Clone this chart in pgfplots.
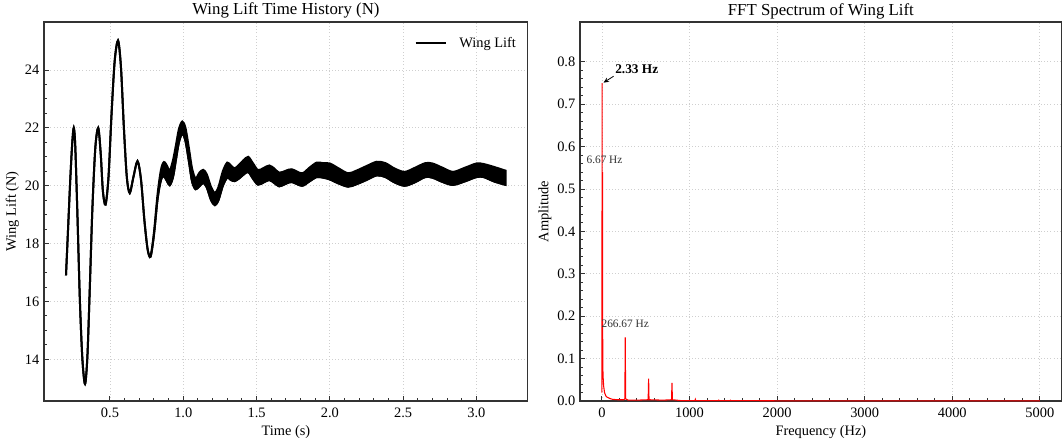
\documentclass[border=0pt]{standalone}
\usepackage{fontspec}
\setmainfont{Liberation Serif}
\usepackage{pgfplots}
\usepackage{pgfplotstable}
\pgfplotsset{compat=1.18}
\usetikzlibrary{arrows.meta}

\definecolor{gridgray}{HTML}{CFCFCF}
\definecolor{framegray}{HTML}{333333}

% lift band: lower and upper envelope (N)
\pgfplotstableread{
t lo hi
0.200 16.90 16.90
0.215 18.60 18.60
0.230 20.30 20.30
0.243 21.50 21.50
0.253 22.00 22.00
0.263 21.40 21.40
0.278 19.00 19.00
0.295 16.00 16.00
0.312 14.00 14.00
0.330 13.15 13.15
0.346 14.10 14.10
0.362 16.40 16.40
0.380 19.20 19.20
0.400 21.30 21.30
0.420 22.00 22.00
0.437 21.10 21.10
0.452 19.80 19.80
0.470 19.35 19.35
0.490 20.30 20.30
0.510 22.40 22.40
0.532 24.30 24.30
0.555 25.02 25.02
0.575 24.10 24.10
0.595 22.00 22.00
0.615 20.30 20.30
0.635 19.75 19.75
0.660 20.30 20.30
0.688 20.85 20.85
0.712 20.20 20.20
0.735 18.80 18.80
0.757 17.80 17.80
0.777 17.55 17.58
0.800 18.30 18.38
0.825 19.55 19.72
0.848 20.20 20.55
0.868 20.33 20.82
0.890 20.15 20.68
0.908 20.02 20.52
0.930 20.30 20.88
0.950 20.90 21.40
0.970 21.50 21.95
0.993 21.80 22.22
1.015 21.55 22.00
1.040 20.80 21.25
1.060 20.15 20.60
1.084 19.88 20.25
1.110 19.98 20.45
1.136 20.10 20.55
1.160 19.95 20.40
1.190 19.50 19.95
1.216 19.33 19.75
1.240 19.50 19.95
1.270 20.00 20.50
1.300 20.28 20.80
1.325 20.20 20.70
1.350 20.16 20.60
1.380 20.25 20.72
1.410 20.38 20.88
1.443 20.48 21.00
1.475 20.25 20.78
1.510 20.04 20.54
1.550 20.12 20.62
1.587 20.20 20.70
1.620 20.10 20.60
1.655 19.98 20.45
1.700 20.07 20.52
1.740 20.13 20.57
1.810 20.00 20.43
1.860 20.15 20.62
1.910 20.30 20.80
1.955 20.28 20.78
2.000 20.22 20.77
2.060 20.08 20.60
2.125 19.97 20.43
2.180 20.05 20.52
2.250 20.20 20.68
2.320 20.36 20.83
2.380 20.30 20.78
2.440 20.12 20.60
2.510 20.00 20.48
2.580 20.12 20.62
2.650 20.30 20.78
2.700 20.28 20.77
2.770 20.13 20.62
2.840 20.03 20.48
2.920 20.15 20.62
3.000 20.30 20.77
3.050 20.30 20.75
3.120 20.15 20.65
3.200 20.03 20.52
}\lift

% FFT amplitude spectrum
\pgfplotstableread{
f a
0 0.02
1.0 0.30
2.33 0.75
4.0 0.30
5.0 0.45
6.67 0.54
8.5 0.20
10 0.09
13 0.06
20 0.035
30 0.020
45 0.012
60 0.009
90 0.006
120 0.004
180 0.003
250 0.003
262 0.005
266.67 0.150
271 0.005
300 0.002
400 0.002
528 0.003
533.33 0.053
538 0.003
700 0.002
795 0.003
800 0.043
805 0.003
900 0.001
1062 0.001
1066.67 0.004
1071 0.001
1329 0.001
1333.33 0.002
1338 0.001
1462 0.001
1466.67 0.002
1471 0.001
2000 0.0005
3000 0.0005
4000 0.0005
5000 0.0005
}\fft

\pgfplotsset{
  sp/.style={
    scale only axis, height=284.25pt,
    anchor=south west,
    axis line style={framegray, line width=0.9pt},
    tick align=inside, xtick pos=bottom, ytick pos=left,
    major tick length=4pt, minor tick length=2.2pt,
    every tick/.style={framegray, line width=0.7pt},
    grid=major, major grid style={gridgray, dotted, line width=0.6pt},
    tick label style={font=\fontsize{10.8}{12}\selectfont},
    xticklabel style={yshift=-2pt},
    label style={font=\fontsize{10.8}{12}\selectfont},
    xlabel shift=-1pt, ylabel shift=-2.5pt,
    title style={font=\fontsize{12.6}{14}\selectfont, yshift=-7pt},
    /pgf/number format/assume math mode=true,
    /pgf/number format/1000 sep={},
  }
}

\begin{document}
\begin{tikzpicture}
\useasboundingbox (0,0) rectangle (796.5pt,333pt);

\begin{axis}[sp, at={(33pt,32.25pt)}, width=362.8pt,
  title={Wing Lift Time History (N)},
  xlabel={Time (s)}, ylabel={Wing Lift (N)},
  xmin=0.05, xmax=3.35, ymin=12.56, ymax=25.66,
  xtick={0.5,1.0,1.5,2.0,2.5,3.0}, ytick={14,16,18,20,22,24},
  minor x tick num=4, minor y tick num=3,
  xticklabel style={/pgf/number format/.cd, fixed, fixed zerofill, precision=1},
  legend style={draw=none, fill=none, at={(0.99,0.975)}, anchor=north east,
    font=\fontsize{10.8}{12}\selectfont},
  legend image code/.code={\draw[line width=1.5pt] (0pt,0pt) -- (23pt,0pt); \path (30pt,0pt);},
]
% lower envelope, then band on top of it filled back to it
\addplot[black, line width=1.5pt, smooth, tension=0.5, stack plots=y] table[x=t, y=lo] {\lift};
\addplot[black, line width=1.5pt, fill=black, smooth, tension=0.5, stack plots=y]
  table[x=t, y expr=\thisrow{hi}-\thisrow{lo}] {\lift} \closedcycle;
\legend{Wing Lift}
\end{axis}

\begin{axis}[sp, at={(435pt,32.25pt)}, width=361.3pt, clip=false,
  title={FFT Spectrum of Wing Lift},
  xlabel={Frequency (Hz)}, ylabel={Amplitude},
  xmin=-250, xmax=5250, ymin=0, ymax=0.894,
  xtick={0,1000,2000,3000,4000,5000},
  ytick={0,0.1,0.2,0.3,0.4,0.5,0.6,0.7,0.8},
  minor x tick num=4, minor y tick num=4,
  yticklabel style={/pgf/number format/.cd, fixed, fixed zerofill, precision=1},
]
\addplot[red, line width=0.8pt] table[x=f, y=a] {\fft};
\node[anchor=west, inner sep=0pt, font=\bfseries\fontsize{10}{12}\selectfont] at (axis cs:150,0.782) {2.33 Hz};
\draw[-{Stealth[length=4pt,width=3.5pt]}, line width=0.6pt] (axis cs:133,0.766) -- (axis cs:19,0.751);
\node[font=\fontsize{8.5}{10}\selectfont, text=framegray, inner sep=0pt] at (axis cs:30,0.57) {6.67 Hz};
\node[font=\fontsize{8.5}{10}\selectfont, text=framegray, inner sep=0pt] at (axis cs:266.67,0.183) {266.67 Hz};
\end{axis}
\end{tikzpicture}
\end{document}
